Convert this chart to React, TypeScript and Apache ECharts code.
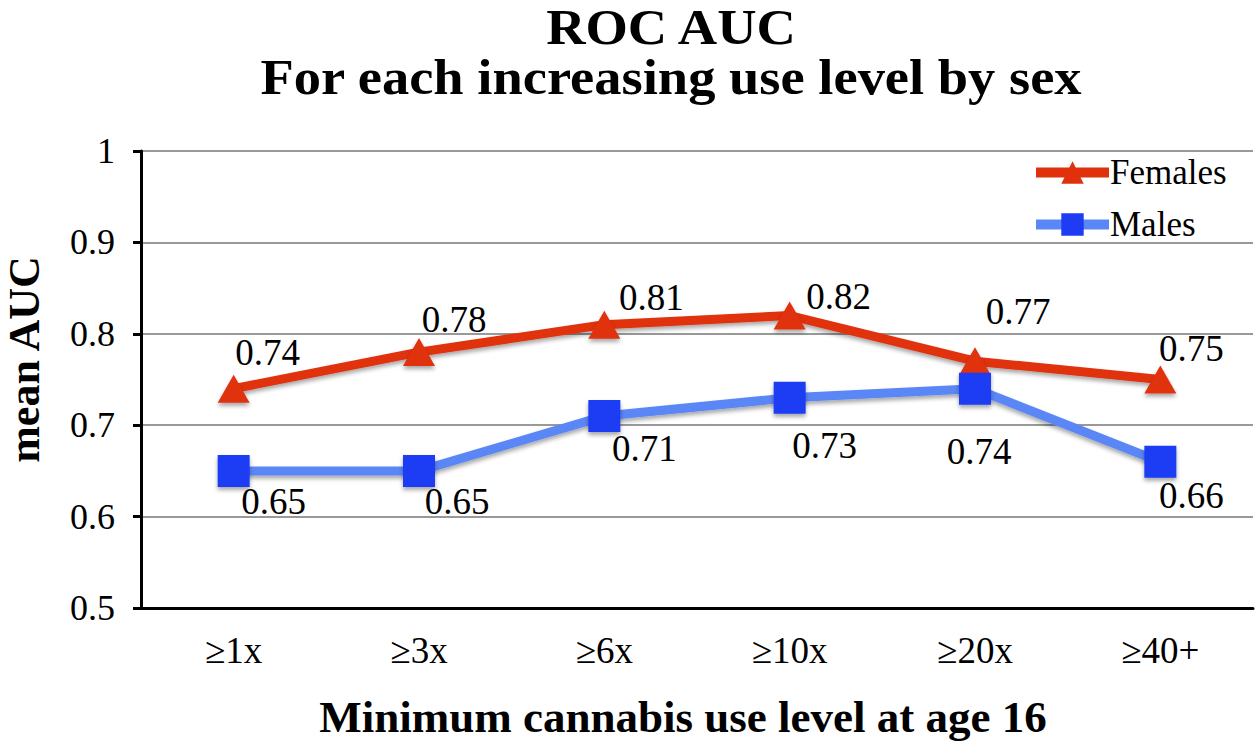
import React, { useEffect, useRef } from "react";
import * as echarts from "echarts";

const categories = ["≥1x", "≥3x", "≥6x", "≥10x", "≥20x", "≥40+"];
const femalesAUC = [0.74, 0.78, 0.81, 0.82, 0.77, 0.75];
const malesAUC = [0.65, 0.65, 0.71, 0.73, 0.74, 0.66];
const yTicks = { min: 0.5, max: 1, interval: 0.1 };
const titleLines = ["ROC AUC", "For each increasing use level by sex"];

// label offsets (layout only)
const femaleLabelOffsets = [[34, -36], [35, -33], [47, -27], [49, -19], [43, -50], [31, -31]];
const maleLabelOffsets = [[40, 31], [38, 31], [40, 32], [35, 48], [4, 63], [31, 34]];

const FONT = '"Liberation Serif", "Times New Roman", serif';
const RED = "#e0300c";
const BLUE_LINE = "#5a86f6";
const BLUE_MARK = "#1e3cf4";

export default function App() {
  const ref = useRef<HTMLDivElement>(null);
  useEffect(() => {
    const chart = echarts.init(ref.current!, null, { renderer: "svg" });
    const shadow = { shadowColor: "rgba(0,0,0,0.35)", shadowBlur: 4, shadowOffsetY: 3 };
    const titleText = (text: string, y: number) => ({
      type: "text",
      x: 671,
      y,
      scaleX: 1.09,
      style: {
        text,
        fontFamily: FONT,
        fontWeight: "bold",
        fontSize: 50,
        fill: "#000",
        textAlign: "center",
        textVerticalAlign: "middle",
      },
    });
    const labelBase = {
      show: true,
      position: "inside",
      fontFamily: FONT,
      fontSize: 37,
      color: "#000",
      formatter: (p: any) => p.value.toFixed(2),
    };
    chart.setOption({
      animation: false,
      backgroundColor: "#ffffff",
      graphic: [titleText(titleLines[0], 27), titleText(titleLines[1], 77)],
      legend: {
        left: 1026,
        top: 150,
        orient: "vertical",
        itemWidth: 73,
        itemHeight: 28,
        itemGap: 17,
        lineStyle: { width: 10 },
        textStyle: { fontFamily: FONT, fontSize: 35, lineHeight: 35, color: "#000", padding: [0, 0, 0, -4] },
        data: ["Females", "Males"],
      },
      grid: { left: 141, right: 7, top: 151, bottom: 134, outerBoundsMode: "none", containLabel: false },
      xAxis: {
        type: "category",
        data: categories,
        boundaryGap: true,
        axisLine: { lineStyle: { color: "#000", width: 3 } },
        axisTick: { alignWithLabel: true, length: 8, lineStyle: { color: "#000", width: 3 } },
        axisLabel: { fontFamily: FONT, fontSize: 37, color: "#000", margin: 24 },
        name: "Minimum cannabis use level at age 16",
        nameLocation: "middle",
        nameGap: 86,
        nameTextStyle: { fontFamily: FONT, fontWeight: "bold", fontSize: 45, color: "#000", padding: [0, 28, 0, 0] },
      },
      yAxis: {
        type: "value",
        min: yTicks.min,
        max: yTicks.max,
        interval: yTicks.interval,
        axisLine: { show: true, lineStyle: { color: "#000", width: 3 } },
        axisTick: { show: true, length: 8, lineStyle: { color: "#000", width: 3 } },
        axisLabel: { fontFamily: FONT, fontSize: 36, color: "#000", margin: 26 },
        splitLine: { lineStyle: { color: "#999", width: 2 } },
        name: "mean AUC",
        nameLocation: "middle",
        nameGap: 95,
        nameTextStyle: { fontFamily: FONT, fontWeight: "bold", fontSize: 44, color: "#000", padding: [0, 0, 0, 40] },
      },
      series: [
        {
          name: "Females",
          type: "line",
          data: femalesAUC.map((v, i) => ({
            value: v,
            label: { offset: femaleLabelOffsets[i] },
          })),
          symbol: "triangle",
          symbolSize: [32, 28],
          lineStyle: { color: RED, width: 9, ...shadow },
          itemStyle: { color: RED, ...shadow },
          label: labelBase,
        },
        {
          name: "Males",
          type: "line",
          data: malesAUC.map((v, i) => ({
            value: v,
            label: { offset: maleLabelOffsets[i] },
          })),
          symbol: "rect",
          symbolSize: 32,
          lineStyle: { color: BLUE_LINE, width: 9, ...shadow },
          itemStyle: { color: BLUE_MARK, ...shadow },
          label: labelBase,
        },
      ],
    });
    return () => chart.dispose();
  }, []);
  return <div ref={ref} style={{ width: 1260, height: 742, position: "absolute", left: 0, top: 0 }} />;
}
